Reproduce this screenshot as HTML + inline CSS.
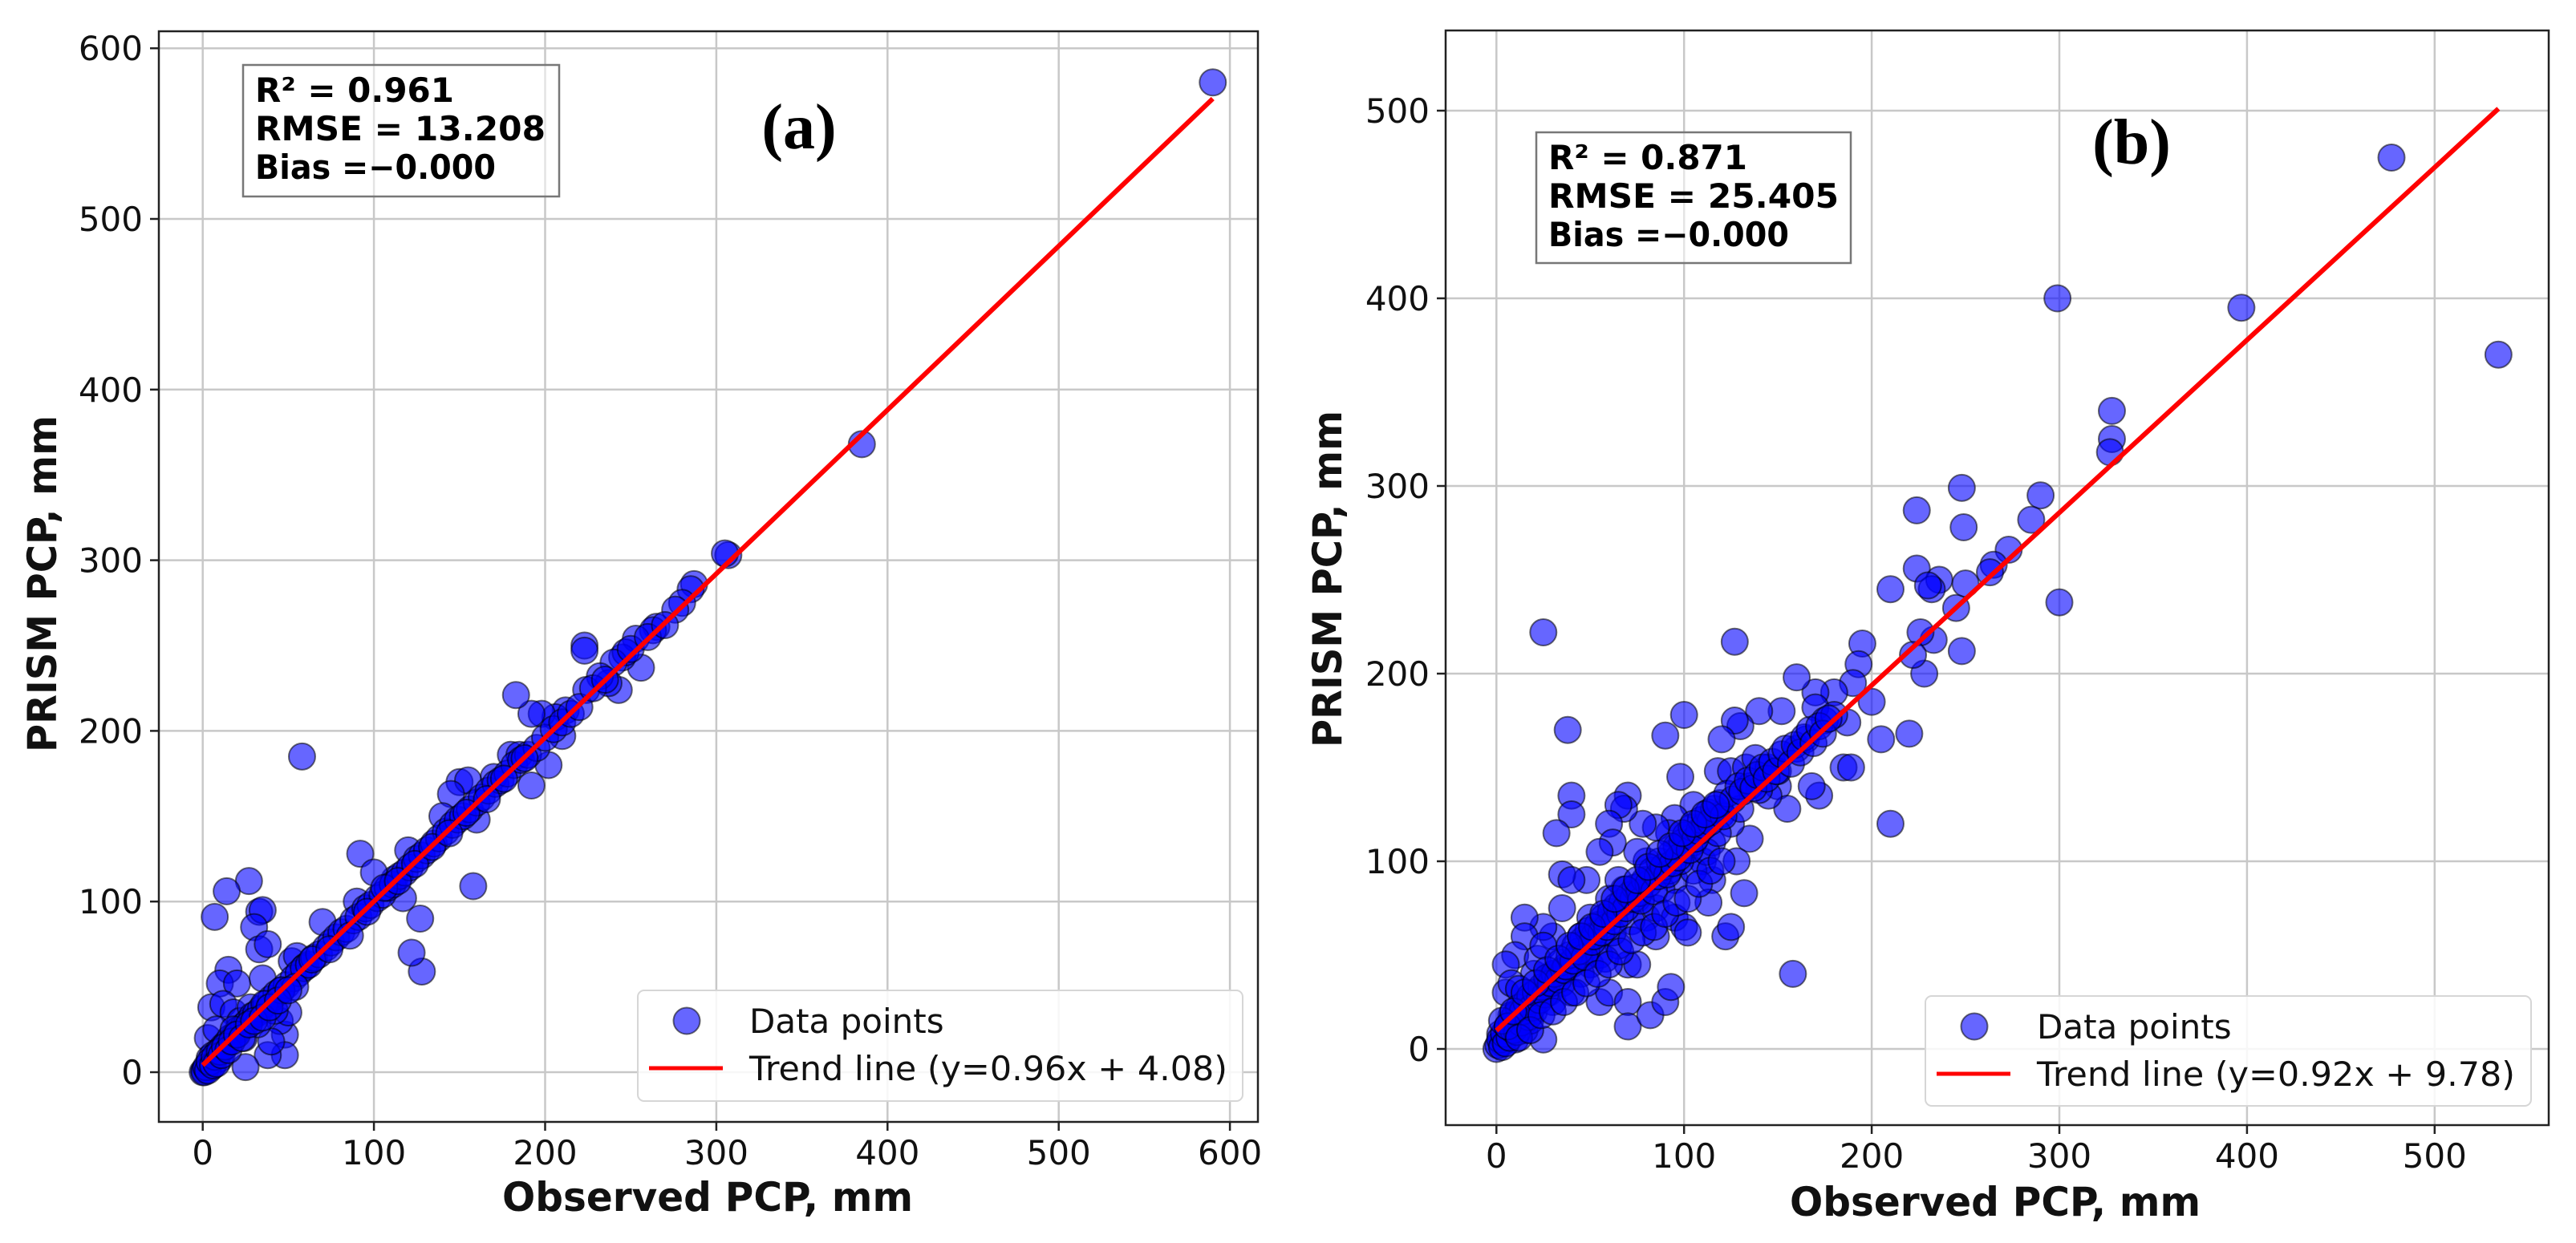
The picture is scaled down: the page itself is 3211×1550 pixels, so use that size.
<!DOCTYPE html>
<html><head><meta charset="utf-8"><style>
html,body{margin:0;padding:0;background:#fff}
svg{display:block}
</style></head><body>
<svg id="fig" width="3211" height="1550" viewBox="0 0 3211 1550" xmlns="http://www.w3.org/2000/svg" font-family="DejaVu Sans, Liberation Sans, sans-serif"></svg>
<script>
// ---- Panel (a) data ----
const aObs = [590,385,307,305,287,285,280,276,265,263,256,253,245,247,240,243,237,232,223,223,224,212,210,206,202,198,192,192,183,180,185,170,160,158,150,155,145,140,128,127,122,120,117,112,92,90,100,70,58,27,14,7,33,35,30,33,38,35,15,10,20,5,12,18,48,48,38,25,45,40,50,3,8,52,55,60,22,28,2,0,1,5,10,
 4,6,9,12,14,16,19,21,24,26,29,31,34,37,40,43,46,49,53,56,59,62,65,68,72,75,78,81,84,88,91,95,98,102,105,108,111,115,118,121,125,128,131,135,138,142,146,149,152,156,160,163,167,171,174,178,182,186,190,195,200,205,210,215,220,228,235,250,260,270,
 18,24,32,36,42,46,54,64,74,86,96,106,114,124,134,144,154,166,176,188,
 1,2,3,4,6,7,8,10,11,13,15,17,20,23,27,30,35,39,44,50];
const aPrism = [580,368,303,304,286,283,275,271,261,259,237,254,243,246,240,224,228,232,250,247,224,212,197,208,180,210,168,210,221,186,186,173,148,109,170,171,163,150,59,90,70,130,102,113,128,100,117,88,185,112,106,91,94,95,85,72,75,55,60,52,52,38,40,35,22,10,10,3,30,18,35,20,25,65,68,62,30,38,2,0,1,3,8,
 8,10,12,15,17,20,22,25,27,29,33,34,37,40,43,46,48,51,55,58,61,63,67,69,73,76,79,82,84,89,91,96,98,102,104,108,110,115,117,120,125,127,130,134,137,141,145,148,150,154,158,161,165,169,171,175,180,183,186,190,196,201,205,210,214,225,230,248,255,262,
 25,20,28,40,36,48,50,66,72,80,94,108,112,122,132,140,152,160,172,184,
 0,3,1,6,4,9,5,12,10,15,13,18,22,20,28,30,32,38,42,48];
// ---- Panel (b) data ----
const bObs = [534,477,397,299,300,328,328,327,290,285,273,265,263,248,249,224,224,236,232,230,233,245,248,250,228,226,222,210,220,210,200,205,195,193,190,187,185,189,180,170,170,172,168,160,152,140,130,127,127,120,118,125,133,138,150,155,145,135,132,128,122,125,115,113,110,105,100,98,95,90,92,85,88,80,78,75,70,68,65,60,62,55,48,40,40,38,32,35,40,25,35,30,25,45,50,55,60,70,70,82,90,93,70,75,158,40,45,20,15,15,10,5,5,8,12,20,25,3,0,2,6,10,15,28,30,50,55,60,65,68,75,80,85,95,100,105,110,115,120,125,130,135,140,145,150,160,165,175,180,85,95,100,102,60,65,50,45,35,30,20,18,8,12,22,25,58,62,72,78,88,92,105,112,118,98,40,48,
 1,2,3,4,5,6,7,8,9,10,11,12,13,14,16,17,18,19,21,23,24,26,27,29,31,33,34,36,37,39,41,42,44,46,47,49,51,52,54,56,57,59,61,63,64,66,67,69,71,73,74,76,77,79,81,83,84,86,87,89,91,93,94,96,97,99,101,103,104,106,108,109,111,113,114,116,119,121,123,126,129,131,134,137,139,142,144,147,149,152,154,157,159,162,164,167,169,172,174,177,
 3,6,9,12,15,18,21,24,27,30,33,36,39,42,45,48,51,54,57,60,63,66,69,72,75,78,81,84,87,90,93,96,99,102,105,108,111,114,117,120];
const bPrism = [370,475,395,400,238,340,325,318,295,282,266,258,254,299,278,287,256,250,245,247,218,235,212,248,200,222,210,245,168,120,185,165,216,205,195,174,150,150,190,190,182,135,140,198,180,180,172,175,217,165,148,148,150,155,140,128,135,112,83,100,60,65,90,78,100,130,178,145,123,167,115,118,95,100,120,105,135,128,130,120,110,105,90,135,125,170,115,93,90,222,75,60,65,60,45,25,30,25,12,18,25,33,45,45,40,45,50,40,70,60,50,45,30,35,20,20,5,3,0,8,12,5,10,30,40,60,50,70,55,85,80,70,75,90,105,95,118,110,125,120,128,140,138,150,148,160,165,175,178,60,70,65,62,80,90,70,40,35,25,30,15,18,32,48,55,48,62,68,88,85,95,110,105,115,100,30,52,
 2,5,1,8,3,12,6,15,10,18,9,22,14,20,25,17,28,22,30,26,33,29,38,35,40,37,46,42,44,50,47,55,52,58,49,63,57,60,66,62,70,65,73,68,76,72,78,75,82,80,86,83,79,90,88,95,84,92,100,97,93,104,99,108,102,110,114,106,118,112,116,122,119,126,121,128,131,124,136,133,140,137,143,139,146,150,144,153,148,157,160,152,162,158,166,170,163,172,168,176,
 15,12,20,6,30,10,35,18,42,20,48,25,55,30,60,35,65,40,72,45,80,52,85,58,90,62,97,65,104,72,108,78,115,80,120,88,125,95,130,100];
const aXTicks = [0,100,200,300,400,500,600];
const aYTicks = [0,100,200,300,400,500,600];
const bXTicks = [0,100,200,300,400,500];
const bYTicks = [0,100,200,300,400,500];
const aTrend = [0.96, 4.08, 0, 590];
const bTrend = [0.92, 9.78, 0, 534];

const NS = "http://www.w3.org/2000/svg";
const fig = document.getElementById('fig');
function mk(tag, attrs, parent){
  const e = document.createElementNS(NS, tag);
  for (const k in attrs) e.setAttribute(k, attrs[k]);
  (parent||fig).appendChild(e);
  return e;
}
function panel(cfg){
  const g = mk('g', {});
  
  
  const L=cfg.L,R=cfg.R,T=cfg.T,B=cfg.B;
  const sx = v => cfg.x0 + (v)*cfg.kx;
  const sy = v => cfg.y0 - (v)*cfg.ky;
  cfg.xt.forEach(t=>{
    const l = mk('line',{x1:sx(t),x2:sx(t),y1:T,y2:B,stroke:'#c8c8c8','stroke-width':2.5},g);
    
    
  });
  cfg.yt.forEach(t=>{
    const l = mk('line',{x1:L,x2:R,y1:sy(t),y2:sy(t),stroke:'#c8c8c8','stroke-width':2.5},g);
    
    
  });
  const pg = mk('g',{},g);
  
  
  cfg.xs.forEach((x,i)=>{
    const c = mk('circle',{cx:sx(x),cy:sy(cfg.ys[i]),r:16.5,fill:'rgba(0,0,255,0.6)',stroke:'rgba(0,0,0,0.55)','stroke-width':2},pg);
    
    
  });
  const [m,b,xa,xb] = cfg.trend;
  const tl = mk('line',{x1:sx(xa),y1:sy(m*xa+b),x2:sx(xb),y2:sy(m*xb+b),stroke:'#ff0000','stroke-width':6},g);
  
  
  const fr = mk('rect',{x:L,y:T,width:R-L,height:B-T,fill:'none',stroke:'#222','stroke-width':2.5},g);
  
  
  cfg.xt.forEach(t=>{
    const tk = mk('line',{x1:sx(t),x2:sx(t),y1:B,y2:B+11,stroke:'#222','stroke-width':2.5},g);
    
    
    const tx = mk('text',{x:sx(t),y:B+53,'font-size':42,'text-anchor':'middle',fill:'#111'},g);
    tx.textContent = t;
    
    
  });
  cfg.yt.forEach(t=>{
    const tk = mk('line',{x1:L-11,x2:L,y1:sy(t),y2:sy(t),stroke:'#222','stroke-width':2.5},g);
    
    
    const tx = mk('text',{x:L-20,y:sy(t)+15,'font-size':42,'text-anchor':'end',fill:'#111'},g);
    tx.textContent = t;
    
    
  });
  const xl = mk('text',{x:cfg.xlx,y:cfg.xly,'font-size':50,'font-weight':'bold','text-anchor':'middle',textLength:512,lengthAdjust:'spacingAndGlyphs',fill:'#111'},g);
  xl.textContent='Observed PCP, mm';
  
  
  const yl = mk('text',{x:0,y:0,'font-size':50,'font-weight':'bold','text-anchor':'middle',textLength:420,lengthAdjust:'spacingAndGlyphs',fill:'#111',transform:`translate(${cfg.ylx},${cfg.yly}) rotate(-90)`},g);
  yl.textContent='PRISM PCP, mm';
  
  
  const sb = mk('rect',{x:cfg.bx,y:cfg.by,width:cfg.bw,height:cfg.bh,fill:'rgba(255,255,255,0.5)',stroke:'#777','stroke-width':2.5},g);
  
  
  cfg.stats.forEach((s,i)=>{
    const t = mk('text',{x:cfg.bx+15,y:cfg.by+46+i*48,'font-size':42,'font-weight':'bold',textLength:s[1],lengthAdjust:'spacingAndGlyphs',fill:'#000'},g);
    t.textContent = s[0];
    
    
  });
  const pl = mk('text',{x:cfg.plx,y:cfg.ply,'font-size':80,'font-weight':'bold','text-anchor':'middle',fill:'#000',style:'font-family:"Liberation Serif",serif'},g);
  pl.textContent = cfg.label;
  
  
  const lg = mk('g',{},g);
  
  
  mk('rect',{x:cfg.lgx,y:cfg.lgy,width:cfg.lgw,height:cfg.lgh,rx:8,fill:'rgba(255,255,255,0.85)',stroke:'#d6d6d6','stroke-width':2},lg);
  const lm = mk('circle',{cx:cfg.lgx+61,cy:cfg.lgy+38,r:16.5,fill:'rgba(0,0,255,0.6)',stroke:'rgba(0,0,0,0.55)','stroke-width':2},lg);
  
  
  const t1 = mk('text',{x:cfg.lgx+139,y:cfg.lgy+53,'font-size':42,fill:'#111'},lg);
  t1.textContent='Data points';
  
  
  const ll = mk('line',{x1:cfg.lgx+14,x2:cfg.lgx+106,y1:cfg.lgy+97,y2:cfg.lgy+97,stroke:'#ff0000','stroke-width':5},lg);
  
  
  const t2 = mk('text',{x:cfg.lgx+139,y:cfg.lgy+112,'font-size':42,fill:'#111',textLength:596,lengthAdjust:'spacingAndGlyphs'},lg);
  t2.textContent=cfg.trendLabel;
  
  
}
panel({name:'panel-a',L:198,R:1568,T:39,B:1399,x0:252.7,kx:2.134,y0:1337,ky:2.128,
  xt:aXTicks,yt:aYTicks,xs:aObs,ys:aPrism,trend:aTrend,
  xlx:882,xly:1510,ylx:70,yly:728,
  bx:303,by:81,bw:394,bh:164,stats:[['R² = 0.961',248],['RMSE = 13.208',362],['Bias =−0.000',300]],
  plx:996,ply:185,label:'(a)',
  lgx:795,lgy:1235,lgw:754,lgh:138,trendLabel:'Trend line (y=0.96x + 4.08)'});
panel({name:'panel-b',L:1802,R:3177,T:38,B:1403,x0:1865.3,kx:2.339,y0:1308,ky:2.34,
  xt:bXTicks,yt:bYTicks,xs:bObs,ys:bPrism,trend:bTrend,
  xlx:2487,xly:1516,ylx:1672,yly:722,
  bx:1915,by:165,bw:392,bh:163,stats:[['R² = 0.871',248],['RMSE = 25.405',362],['Bias =−0.000',300]],
  plx:2657,ply:204,label:'(b)',
  lgx:2400,lgy:1242,lgw:755,lgh:137,trendLabel:'Trend line (y=0.92x + 9.78)'});
</script>
</body></html>
